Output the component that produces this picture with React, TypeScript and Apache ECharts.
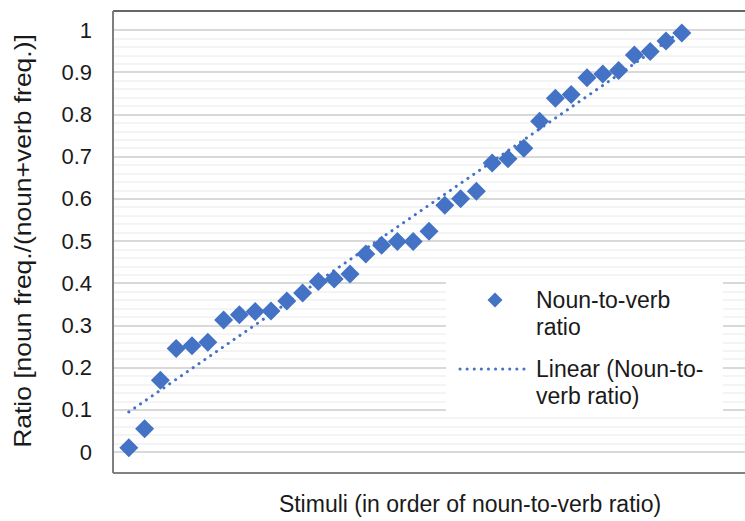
import React, { useEffect, useRef } from "react";
import * as echarts from "echarts";

const stimuliIndex: number[] = [
  1, 2, 3, 4, 5, 6, 7, 8, 9, 10, 11, 12, 13, 14, 15, 16, 17, 18,
  19, 20, 21, 22, 23, 24, 25, 26, 27, 28, 29, 30, 31, 32, 33, 34, 35, 36,
];
const nounToVerbRatio: number[] = [
  0.01, 0.055, 0.17, 0.245, 0.252, 0.26, 0.313, 0.325, 0.333, 0.334, 0.358, 0.377,
  0.404, 0.41, 0.422, 0.469, 0.49, 0.499, 0.499, 0.523, 0.585, 0.6, 0.618, 0.685,
  0.695, 0.72, 0.784, 0.838, 0.847, 0.887, 0.896, 0.904, 0.941, 0.949, 0.974, 0.993,
];
const yTicks: number[] = [0, 0.1, 0.2, 0.3, 0.4, 0.5, 0.6, 0.7, 0.8, 0.9, 1];

const seriesName = "Noun-to-verb ratio";
const trendName = "Linear (Noun-to-verb ratio)";
const xTitle = "Stimuli (in order of noun-to-verb ratio)";
const yTitle = "Ratio [noun freq./(noun+verb freq.)]";

const BLUE = "#4472C4";
const FONT = "Arial, 'Liberation Sans', sans-serif";

function linearFit(xs: number[], ys: number[]) {
  const n = xs.length;
  const mx = xs.reduce((a, b) => a + b, 0) / n;
  const my = ys.reduce((a, b) => a + b, 0) / n;
  let sxy = 0;
  let sxx = 0;
  for (let i = 0; i < n; i++) {
    sxy += (xs[i] - mx) * (ys[i] - my);
    sxx += (xs[i] - mx) * (xs[i] - mx);
  }
  const slope = sxy / sxx;
  const intercept = my - slope * mx;
  return { slope, intercept };
}

export default function App() {
  const ref = useRef<HTMLDivElement>(null);

  useEffect(() => {
    if (!ref.current) return;
    const chart = echarts.init(ref.current, undefined, { renderer: "svg" });
    const fit = linearFit(stimuliIndex, nounToVerbRatio);
    const x0 = stimuliIndex[0];
    const x1 = stimuliIndex[stimuliIndex.length - 1];
    const trendData = [
      [x0, fit.intercept + fit.slope * x0],
      [x1, fit.intercept + fit.slope * x1],
    ];

    chart.setOption({
      animation: false,
      backgroundColor: "#ffffff",
      grid: { left: 113, top: 30, width: 640, height: 422, containLabel: false },
      xAxis: {
        type: "value",
        min: 0,
        max: 40,
        show: true,
        axisLine: { show: false },
        axisTick: { show: false },
        axisLabel: { show: false },
        splitLine: { show: false },
      },
      yAxis: {
        type: "value",
        min: yTicks[0],
        max: yTicks[yTicks.length - 1],
        interval: 0.1,
        axisLine: { show: false },
        axisTick: { show: false },
        axisLabel: {
          fontSize: 22,
          color: "#1a1a1a",
          fontFamily: FONT,
          margin: 21,
        },
        splitLine: { show: true, lineStyle: { color: "#d9d9d9", width: 2 } },
        minorTick: { show: false, splitNumber: 5 },
        minorSplitLine: { show: true, lineStyle: { color: "#f0f0f0", width: 1.5 } },
      },
      series: [
        {
          name: seriesName,
          type: "scatter",
          symbol: "diamond",
          symbolSize: 19,
          itemStyle: { color: BLUE, opacity: 1 },
          data: stimuliIndex.map((x, i) => [x, nounToVerbRatio[i]]),
          z: 2,
          clip: false,
        },
        {
          name: trendName,
          type: "line",
          symbol: "none",
          data: trendData,
          lineStyle: { color: BLUE, width: 3, type: [0.1, 7], cap: "round" },
          z: 3,
        },
      ],
      graphic: [
        // plot-area frame
        { type: "line", shape: { x1: 113, y1: 11, x2: 745, y2: 11 }, style: { stroke: "#333333", lineWidth: 1.5 }, z: 10 },
        { type: "line", shape: { x1: 113, y1: 473, x2: 745, y2: 473 }, style: { stroke: "#595959", lineWidth: 1.5 }, z: 10 },
        { type: "line", shape: { x1: 113, y1: 11, x2: 113, y2: 473 }, style: { stroke: "#7f7f7f", lineWidth: 2 }, z: 10 },
        // axis titles
        {
          type: "text",
          x: 470,
          y: 504,
          style: {
            text: xTitle,
            fontSize: 23,
            fontFamily: FONT,
            fill: "#1a1a1a",
            align: "center",
            verticalAlign: "middle",
          },
        },
        {
          type: "text",
          x: 23,
          y: 241,
          rotation: Math.PI / 2,
          scaleX: 1.15,
          style: {
            text: yTitle,
            fontSize: 23,
            fontFamily: FONT,
            fill: "#1a1a1a",
            align: "center",
            verticalAlign: "middle",
          },
        },
        // legend
        {
          type: "rect",
          shape: { x: 446, y: 282, width: 277, height: 130 },
          style: { fill: "#ffffff" },
          z: 20,
        },
        {
          type: "polygon",
          shape: { points: [[495, 292.5], [502.5, 300], [495, 307.5], [487.5, 300]] },
          style: { fill: BLUE },
          z: 21,
        },
        {
          type: "text",
          x: 536,
          y: 286.5,
          style: {
            text: "Noun-to-verb\nratio",
            fontSize: 23,
            lineHeight: 27,
            fontFamily: FONT,
            fill: "#1a1a1a",
            verticalAlign: "top",
          },
          z: 21,
        },
        {
          type: "line",
          shape: { x1: 460, y1: 369, x2: 529, y2: 369 },
          style: { stroke: BLUE, lineWidth: 3, lineDash: [0.1, 7], lineCap: "round" },
          z: 21,
        },
        {
          type: "text",
          x: 536,
          y: 355.5,
          style: {
            text: "Linear (Noun-to-\nverb ratio)",
            fontSize: 23,
            lineHeight: 27,
            fontFamily: FONT,
            fill: "#1a1a1a",
            verticalAlign: "top",
          },
          z: 21,
        },
      ],
    });
    return () => chart.dispose();
  }, []);

  return (
    <div
      ref={ref}
      style={{ position: "fixed", left: 0, top: 0, width: 745, height: 521, background: "#fff" }}
    />
  );
}
